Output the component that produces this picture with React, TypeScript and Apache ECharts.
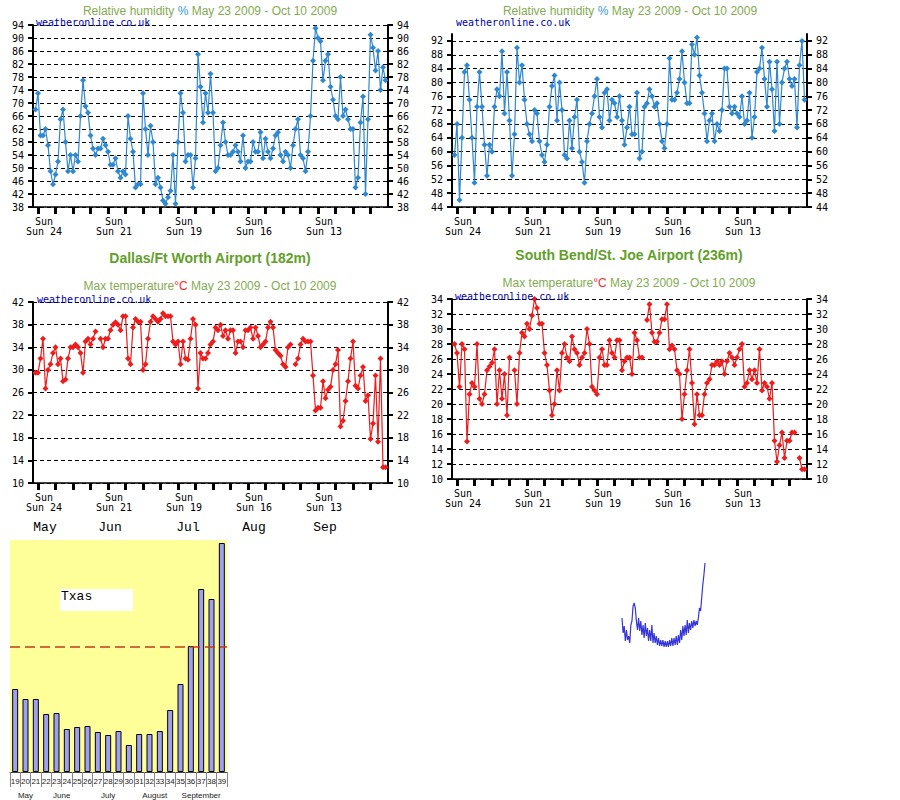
import React, { useEffect, useRef } from "react";
import * as echarts from "echarts";

// ---- Data ----
const humidityDallas = [
  68, 73, 60, 60, 62, 57, 49, 45, 48, 52,
  65, 68, 58, 49, 54, 49, 54, 52, 66, 77,
  69, 67, 60, 56, 54, 56, 56, 59, 57, 55,
  51, 51, 53, 49, 47, 49, 48, 66, 59, 55,
  44, 45, 45, 73, 62, 54, 63, 58, 45, 47,
  44, 40, 39, 41, 43, 54, 39, 58, 73, 67,
  52, 54, 54, 44, 53, 85, 75, 64, 73, 67,
  79, 67, 49, 50, 57, 64, 58, 54, 54, 55,
  57, 55, 52, 60, 50, 52, 52, 58, 55, 55,
  61, 53, 59, 55, 53, 56, 60, 61, 54, 52,
  55, 54, 50, 57, 62, 65, 54, 53, 49, 55,
  66, 83, 93, 90, 89, 77, 83, 85, 75, 71,
  66, 65, 78, 66, 68, 65, 62, 62, 44, 47,
  64, 72, 42, 65, 91, 87, 80, 86, 74, 81,
  77,
];

const humiditySouthBend = [
  59, 68, 46, 64, 83, 85, 75, 64, 51, 73,
  83, 73, 62, 53, 62, 60, 73, 78, 76, 89,
  71, 83, 69, 53, 65, 90, 80, 85, 75, 68,
  65, 63, 72, 71, 63, 59, 57, 62, 73, 79,
  82, 69, 80, 72, 59, 58, 69, 61, 70, 75,
  60, 57, 51, 63, 68, 71, 76, 81, 70, 67,
  77, 78, 69, 75, 74, 70, 76, 69, 62, 67,
  73, 65, 65, 77, 58, 60, 73, 74, 78, 76,
  73, 74, 68, 63, 61, 68, 87, 75, 75, 77,
  81, 89, 80, 74, 74, 91, 88, 93, 82, 77,
  71, 63, 69, 71, 63, 68, 66, 72, 84, 84,
  73, 71, 73, 71, 70, 76, 68, 69, 77, 64,
  70, 83, 84, 90, 81, 73, 86, 78, 66, 86,
  68, 80, 84, 86, 81, 79, 81, 67, 85, 92,
  75,
];

const tempDallas = [
  29.5, 29.5, 32, 35.5, 26.7, 30, 31, 33, 34, 31,
  32, 28, 28.3, 32, 34, 34, 34.5, 34, 33, 29.5,
  35, 35.5, 34.5, 35.5, 36.8, null, 35.5, 34, 35.5, 35.5,
  37, 38, 38.4, 38, 37, 39.5, 39.5, 32, 31, 37.5,
  39, 38.5, 38.5, 30, 31, 35.5, 38.5, 39.5, 39, 38.5,
  39, 40, 39.5, 39.5, 39.5, 35, 34.5, 35, 31, 35,
  32, 31.8, 35.5, 39, 38, 26.7, 33, 32, 32, 33,
  34.5, 35, 37.5, 37, 38, 36, 37, 35.5, 37, 37,
  33, 35, 35, 34, 37, 37, 37.5, 35.5, 37.5, 36,
  34, 34.5, 35, 37.5, 38.5, 37.5, 33.5, 33, 32.5, 31,
  30.5, 34, 34.5, null, 31, 32, 34.5, 35.5, 35, 35,
  35, 29, 22.8, 23.3, 23.3, 28, 25, 26.5, 27, 30,
  31, 33.5, 20, 21, 24.5, 28, 32, 35, 27.2, 26.7,
  29, 30.5, 24.5, 25.5, 17.8, 20.5, 29, 17.3, 32, 12.8,
  12.8,
];

const tempSouthBend = [
  28, 26.8, 22.3, 28, 27.3, 15, 21.3, 22.8, 22.3, 28,
  20.7, 20, 21.3, 24.5, 25, 25.5, 27.3, 20, 24.5, 20.7,
  24, 18.5, 26.2, null, 24.5, 20, 26.8, 29.5, 29, 30.7,
  30, 31.8, 34, 32.8, 30.7, 30.7, 26.8, 25.2, 21.8, 18.5,
  20, 24.5, 21.8, 26.8, 28, 26.2, 25.7, 29, 27.3, 26.8,
  25.2, 26.2, 26.8, 30, 28, 22.3, 21.8, 21.3, 26.2, 27.3,
  25.2, 25.2, 28.5, 26.8, 26.2, 28.5, 28.5, 24.5, 25.7, 26.2,
  26.2, 24, 29.5, 28.5, 26.2, 26.2, null, 31.2, 33.3, 29.5,
  28.3, 28.3, 29.5, 31.3, 31.3, 33.3, 27.3, 27.8, 27.3, 24.5,
  24, 18, 21.3, 24.5, 27.3, 22.8, 17.3, 21.3, 18.5, 18.5,
  21.3, 22.8, 23.3, 25.2, 25.2, 25.7, 25.2, 25.7, 24, 25.7,
  26.8, 26.2, 25.2, 26.2, 27.3, 28, 22.3, 22.8, 24.5, 23.3,
  24.5, 22.8, 27.3, 21.8, 22.8, 22.3, 20.7, 22.8, 15.1, 12.3,
  14.5, 16.2, 12.8, 15.1, 15.1, 16.2, 16.2, null, 12.8, 11.3,
  11.3,
];

const sundayLabels = ["24", "21", "19", "16", "13"];
const weekNumbers = ["19", "20", "21", "22", "23", "24", "25", "26", "27", "28", "29", "30", "31", "32", "33", "34", "35", "36", "37", "38", "39"];
const weeklyValues = [83, 73, 73, 58, 59, 43, 45, 46, 40, 37, 41, 27, 38, 38, 41, 62, 88, 126, 183, 173, 229];
const thresholdValue = 125;
const monthGroups = ["May", "June", "July", "August", "September"];
const monthGroupSizes = [3, 4, 5, 4, 5];
const topMonths = ["May", "Jun", "Jul", "Aug", "Sep"];
const dailyValues = [
  40, 25, 32, 17, 28, 18, 22, 15, 33, 37,
  52, 55, 50, 37, 28, 40, 27, 37, 23, 33,
  20, 35, 22, 30, 17, 28, 17, 33, 15, 25,
  15, 22, 13, 20, 12, 18, 12, 18, 11, 17,
  11, 17, 11, 18, 12, 20, 12, 20, 13, 22,
  13, 23, 15, 28, 18, 32, 22, 33, 23, 38,
  25, 35, 28, 37, 30, 38, 32, 37, 33, 40,
  50, 47, 60, 73, 83, 95,
];

// ---- Layout / style ----
const MONO = '"DejaVu Sans Mono", monospace';
const SANS = '"Liberation Sans", Arial, sans-serif';
const OLIVE = "#84ab52";
const GREEN = "#62a02a";
const BLUE_LINE = "#2f88d0";
const RED_LINE = "#ee1c1c";

const tickDays = Array.from({ length: 20 }, (_, k) => 1 + 7 * k);
const labelDays = sundayLabels.map((_, k) => 1 + 28 * k);

const panels = [
  { left: 33, top: 25, height: 182, min: 38, max: 94, interval: 4, data: humidityDallas, color: BLUE_LINE, hideMax: false },
  { left: 452, top: 34, height: 173, min: 44, max: 94, interval: 4, data: humiditySouthBend, color: BLUE_LINE, hideMax: true },
  { left: 33, top: 302, height: 181, min: 10, max: 42, interval: 4, data: tempDallas, color: RED_LINE, hideMax: false },
  { left: 452, top: 299, height: 180, min: 10, max: 34, interval: 2, data: tempSouthBend, color: RED_LINE, hideMax: false },
];

function buildOption() {
  const grid: any[] = [];
  const xAxis: any[] = [];
  const yAxis: any[] = [];
  const series: any[] = [];

  panels.forEach((p, i) => {
    grid.push({ left: p.left, top: p.top, width: 355, height: p.height, containLabel: false });
    xAxis.push({
      type: "value",
      gridIndex: i,
      min: -1,
      max: 141,
      axisLine: { show: true, onZero: false, lineStyle: { color: "#000", width: 1.5 } },
      axisTick: { show: true, customValues: tickDays, length: 7, lineStyle: { color: "#000", width: 3 } },
      axisLabel: {
        customValues: labelDays,
        formatter: (v: number) => {
          const k = labelDays.indexOf(Math.round(v));
          return k >= 0 ? `Sun\nSun ${sundayLabels[k]}` : "";
        },
        fontFamily: MONO,
        fontSize: 10,
        lineHeight: 10,
        color: "#000",
        margin: 9,
        padding: [0, 0, 0, 12],
      },
      splitLine: { show: false },
    });
    const yBase = {
      type: "value",
      gridIndex: i,
      min: p.min,
      max: p.max,
      interval: p.interval,
      axisLine: { show: true, onZero: false, lineStyle: { color: "#000", width: 2 } },
      axisTick: { show: true, length: 5, lineStyle: { color: "#000", width: 2 } },
      axisLabel: { fontFamily: MONO, fontSize: 10, color: "#000", margin: 9, showMaxLabel: !p.hideMax },
    };
    yAxis.push({
      ...yBase,
      position: "left",
      splitLine: { show: true, showMaxLine: !p.hideMax, lineStyle: { color: "#000", type: [4, 3], width: 1 } },
    });
    yAxis.push({ ...yBase, position: "right", splitLine: { show: false } });
    series.push({
      type: "line",
      xAxisIndex: i,
      yAxisIndex: 2 * i,
      data: p.data.map((v, d) => [d, v]),
      symbol: "diamond",
      symbolSize: 6,
      connectNulls: false,
      clip: false,
      lineStyle: { color: p.color, width: 1.2 },
      itemStyle: { color: p.color },
    });
  });

  // Bar chart (grid 4)
  grid.push({ left: 10, top: 540, width: 217, height: 232, show: true, backgroundColor: "#ffff99", borderWidth: 0 });
  const centers: number[] = [];
  const bounds: number[] = [];
  let start = 0;
  monthGroupSizes.forEach((s, k) => {
    centers.push(start + (s - 1) / 2);
    start += s;
    if (k < monthGroupSizes.length - 1) bounds.push(start - 0.5);
  });
  xAxis.push({
    type: "category",
    gridIndex: 4,
    data: weekNumbers,
    axisLine: { show: true, onZero: false, lineStyle: { color: "#444", width: 1 } },
    axisTick: { show: true, interval: 0, length: 15, lineStyle: { color: "#888", width: 1 } },
    axisLabel: { interval: 0, fontFamily: SANS, fontSize: 8, color: "#222", margin: 5 },
  });
  xAxis.push({
    type: "value",
    gridIndex: 4,
    min: -0.5,
    max: weekNumbers.length - 0.5,
    position: "bottom",
    offset: 15,
    axisLine: { show: false },
    axisTick: { show: true, customValues: bounds, length: 13, lineStyle: { color: "#888", width: 1 } },
    axisLabel: {
      customValues: centers,
      formatter: (v: number) => {
        const k = centers.findIndex((c) => Math.abs(c - v) < 0.01);
        return k >= 0 ? monthGroups[k] : "";
      },
      fontFamily: SANS,
      fontSize: 8,
      color: "#222",
      margin: 4,
    },
    splitLine: { show: false },
  });
  yAxis.push({ type: "value", gridIndex: 4, min: 0, max: 232, show: false });
  series.push({
    type: "bar",
    xAxisIndex: 4,
    yAxisIndex: 8,
    data: weeklyValues,
    barWidth: 6,
    itemStyle: { color: "#a0a0f0", borderColor: "#000", borderWidth: 1 },
    markLine: {
      silent: true,
      symbol: "none",
      label: { show: false },
      lineStyle: { color: "#c43a1a", type: [10, 5], width: 1.5 },
      data: [{ yAxis: thresholdValue }],
    },
  });

  // Small line (grid 5)
  grid.push({ left: 622, top: 558, width: 83, height: 100 });
  xAxis.push({ type: "category", gridIndex: 5, data: dailyValues.map((_, i) => String(i)), boundaryGap: false, show: false });
  yAxis.push({ type: "value", gridIndex: 5, min: 0, max: 100, show: false });
  series.push({
    type: "line",
    xAxisIndex: 6,
    yAxisIndex: 9,
    data: dailyValues,
    symbol: "none",
    lineStyle: { color: "#3535d8", width: 1.2 },
  });

  const richBase = { fontFamily: SANS, fontSize: 12, lineHeight: 14, fontWeight: "normal" };
  const humTitle = "{g|Relative humidity }{b|%}{g| May 23 2009 - Oct 10 2009}";
  const tempTitle = "{g|Max temperature}{r|°C}{g| May 23 2009 - Oct 10 2009}";
  const rich = {
    g: { ...richBase, color: OLIVE },
    b: { ...richBase, color: "#3399dd" },
    r: { ...richBase, color: "#ff2a2a" },
  };
  const sub = (text: string, x: number, y: number) => ({
    text,
    left: x,
    top: y,
    textAlign: "center",
    textVerticalAlign: "top",
    padding: 0,
    textStyle: { fontWeight: "normal", fontSize: 12, fontFamily: SANS, rich },
  });
  const head = (text: string, x: number, y: number) => ({
    text,
    left: x,
    top: y,
    textAlign: "center",
    textVerticalAlign: "top",
    padding: 0,
    textStyle: { fontFamily: SANS, fontSize: 14, fontWeight: "bold", color: GREEN, lineHeight: 16 },
  });

  const title = [
    sub(humTitle, 210, 4),
    sub(humTitle, 630, 4),
    head("Dallas/Ft Worth Airport (182m)", 210, 250),
    sub(tempTitle, 210, 279),
    head("South Bend/St. Joe Airport (236m)", 629, 247),
    sub(tempTitle, 629, 276),
  ];

  const wol = (x: number, y: number) => ({
    type: "text",
    x,
    y,
    style: { text: "weatheronline.co.uk", font: `10px ${MONO}`, fill: "#0000aa", textAlign: "left", textVerticalAlign: "middle" },
    z: 10,
  });
  const monthX = [45, 110, 188, 254, 325];
  const graphic: any[] = [
    wol(36, 22),
    wol(456, 22),
    wol(37, 299),
    wol(455, 296),
    ...topMonths.map((m, k) => ({
      type: "text",
      x: monthX[k],
      y: 527,
      style: { text: m, font: '13px "Liberation Mono", monospace', fill: "#000", textAlign: "center", textVerticalAlign: "middle" },
    })),
    { type: "rect", shape: { x: 60, y: 589, width: 73, height: 22 }, style: { fill: "#fff" }, z: 10 },
    {
      type: "text",
      x: 61,
      y: 596,
      z: 11,
      style: { text: "Txas", font: '13px "Liberation Mono", monospace', fill: "#000", textAlign: "left", textVerticalAlign: "middle" },
    },
  ];

  return {
    animation: false,
    backgroundColor: "#fff",
    title,
    grid,
    xAxis,
    yAxis,
    series,
    graphic,
  };
}

export default function App() {
  const ref = useRef<HTMLDivElement>(null);
  useEffect(() => {
    if (!ref.current) return;
    const chart = echarts.init(ref.current, undefined, { renderer: "svg" });
    chart.setOption(buildOption() as any);
    return () => chart.dispose();
  }, []);
  return (
    <div
      ref={ref}
      style={{ position: "absolute", left: 0, top: 0, width: 900, height: 800, background: "#fff" }}
    />
  );
}
